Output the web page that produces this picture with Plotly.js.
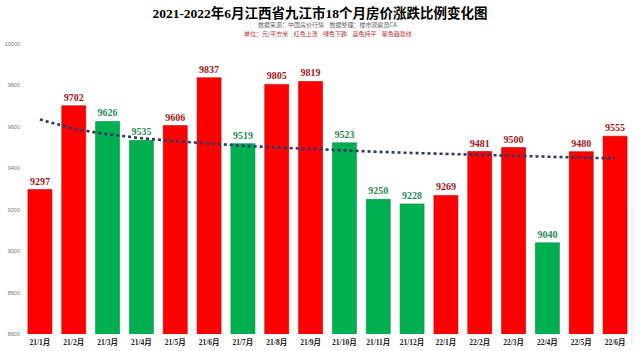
<!DOCTYPE html>
<html>
<head>
<meta charset="utf-8">
<script src="https://cdn.plot.ly/plotly-3.0.1.min.js"></script>
<style>html,body{margin:0;padding:0;background:#fff;}#chart{width:640px;height:351px;}</style>
</head>
<body>
<div id="chart"></div>
<script>
const categories = ["21/1月","21/2月","21/3月","21/4月","21/5月","21/6月","21/7月","21/8月","21/9月","21/10月","21/11月","21/12月","22/1月","22/2月","22/3月","22/4月","22/5月","22/6月"];
const prices = [9297,9702,9626,9535,9606,9837,9519,9805,9819,9523,9250,9228,9269,9481,9500,9040,9480,9555];
const directions = ["up","up","down","down","up","up","down","up","up","down","down","down","up","up","up","down","up","up"];
const yTicks = [8600,8800,9000,9200,9400,9600,9800,10000];

const barColor = {up:"#FF0000", down:"#00B050", flat:"#0070C0"};
const lineColor = {up:"#C00000", down:"#00904A", flat:"#005A9A"};
const textColor = {up:"#A01818", down:"#2A8A55", flat:"#1F4E79"};

// Logarithmic trendline (least squares fit y = a + b ln x), as produced by the spreadsheet
const lx = prices.map((_, i) => Math.log(i + 1));
const n = prices.length;
const mL = lx.reduce((s, v) => s + v, 0) / n;
const mY = prices.reduce((s, v) => s + v, 0) / n;
let sxy = 0, sxx = 0;
for (let i = 0; i < n; i++) { sxy += (lx[i] - mL) * (prices[i] - mY); sxx += (lx[i] - mL) ** 2; }
const b = sxy / sxx, a = mY - b * mL;
const trend = lx.map(l => a + b * l);

const bars = {
  type: "bar",
  x: categories,
  y: prices,
  marker: {color: directions.map(d => barColor[d]), line: {color: directions.map(d => lineColor[d]), width: 0.6}},
  text: prices.map(String),
  textposition: "outside",
  cliponaxis: false,
  textfont: {family: "Liberation Serif, serif", size: 10, color: directions.map(d => textColor[d]), weight: "bold"},
  hoverinfo: "x+y"
};
const trendLine = {
  type: "scatter",
  mode: "lines",
  x: categories,
  y: trend,
  line: {color: "#2B3A67", width: 2.6, dash: "dot"},
  hoverinfo: "skip"
};

const layout = {
  width: 640, height: 351,
  margin: {l: 23, r: 8, t: 44, b: 17},
  paper_bgcolor: "#FFFFFF",
  plot_bgcolor: "#FFFFFF",
  showlegend: false,
  bargap: 0.29,
  title: {text: "<b>2021-2022年6月江西省九江市18个月房价涨跌比例变化图</b>", x: 0.5, xanchor: "center", y: 0.962, yanchor: "middle",
          font: {family: "Liberation Serif, Noto Sans CJK SC, serif", size: 13.5, color: "#000000"}},
  xaxis: {type: "category", showgrid: false, zeroline: false, showline: false, ticks: "",
          tickfont: {family: "Liberation Serif, Noto Sans CJK SC, serif", size: 7.5, color: "#222222", weight: "bold"},
          ticklabelstandoff: 2},
  yaxis: {range: [8600, 10000], tickvals: yTicks, ticktext: yTicks.map(String), showgrid: false, zeroline: false,
          showline: false, ticks: "", tickfont: {family: "Liberation Sans, sans-serif", size: 5.5, color: "#777777"},
          ticklabelstandoff: 2},
  annotations: [
    {text: "数据来源：中国房价行情    数据整理：楼市观察员CA", xref: "paper", yref: "paper", x: 0.5, y: 1, yshift: 20,
     xanchor: "center", yanchor: "middle", showarrow: false,
     font: {family: "Noto Sans CJK SC, sans-serif", size: 6, color: "#666666"}},
    {text: "单位：元/平方米    红色上涨    绿色下跌    蓝色持平    紫色趋势线", xref: "paper", yref: "paper", x: 0.5, y: 1, yshift: 11,
     xanchor: "center", yanchor: "middle", showarrow: false,
     font: {family: "Noto Sans CJK SC, sans-serif", size: 6, color: "#C0303A"}}
  ],
  shapes: [
    {type: "line", xref: "paper", yref: "paper", x0: 1.0, x1: 1.0, y0: -0.04, y1: 0.45, line: {color: "#E6E6E6", width: 1}}
  ]
};

Plotly.newPlot("chart", [bars, trendLine], layout, {displayModeBar: false, staticPlot: true});
</script>
</body>
</html>
